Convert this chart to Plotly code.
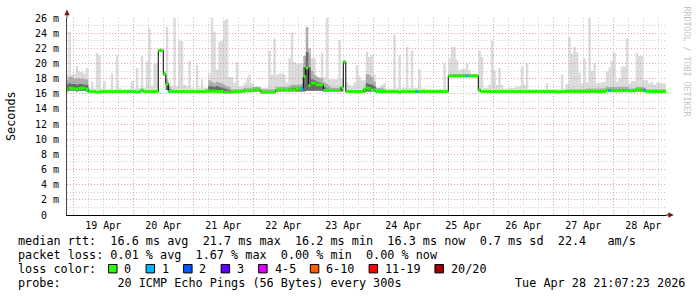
import datetime as dt
import plotly.graph_objects as go

# ---------------- data (hourly bins starting 2026-04-18 21:00) ----------------
START = dt.datetime(2026, 4, 18, 21, 0)
VIEW_START = dt.datetime(2026, 4, 18, 21, 29)
VIEW_END = dt.datetime(2026, 4, 28, 21, 5)

DAY_LABELS = ["19 Apr", "20 Apr", "21 Apr", "22 Apr", "23 Apr",
              "24 Apr", "25 Apr", "26 Apr", "27 Apr", "28 Apr"]
DAY_NUMBERS = [19, 20, 21, 22, 23, 24, 25, 26, 27, 28]

Y_TICKS = [0, 2, 4, 6, 8, 10, 12, 14, 16, 18, 20, 22, 24, 26]
Y_TICK_TEXT = ["0  ", "2 m", "4 m", "6 m", "8 m", "10 m", "12 m", "14 m",
               "16 m", "18 m", "20 m", "22 m", "24 m", "26 m"]

# max ping per hour (ms)
MAX_RTT = [
    18.5, 24.2, 18.5, 18.6, 19.7, 18.9, 18.9, 18.7, 19.4, 16.8, 17.6, 16.7, 21.4, 21.1, 16.7, 17.7, 16.6, 16.6, 18.7, 16.6, 21.1, 16.8, 16.6, 16.6,
    16.6, 16.6, 17.7, 16.7, 19.4, 16.8, 21.0, 16.8, 20.3, 24.6, 17.0, 20.0, 20.0, 22.0, 22.0, 19.0, 24.8, 17.5, 17.0, 26.1, 17.0, 23.0, 22.9, 17.2,
    17.0, 20.4, 16.8, 16.7, 19.8, 16.8, 17.9, 16.8, 16.8, 18.7, 26.1, 24.2, 19.2, 22.9, 23.0, 25.7, 25.9, 18.2, 18.2, 17.5, 20.2, 17.0, 17.0, 17.4,
    17.9, 18.5, 17.4, 17.0, 17.0, 16.9, 16.8, 16.8, 16.8, 21.7, 18.5, 23.3, 18.5, 18.7, 18.7, 18.5, 17.5, 20.7, 24.1, 20.2, 20.0, 20.0, 20.0, 21.0,
    24.8, 21.2, 20.7, 20.7, 18.2, 18.2, 21.4, 18.2, 26.1, 17.9, 17.9, 17.9, 17.9, 23.1, 18.0, 20.4, 17.5, 17.2, 17.0, 17.5, 19.8, 18.3, 17.8, 17.8,
    21.5, 20.9, 21.1, 18.5, 16.8, 16.8, 17.2, 17.4, 16.7, 16.7, 16.7, 23.8, 16.8, 21.1, 16.8, 16.8, 22.2, 16.8, 21.7, 16.8, 16.8, 19.2, 16.7, 16.7,
    16.6, 16.6, 16.6, 16.6, 16.6, 16.6, 16.6, 20.0, 16.6, 20.7, 22.2, 22.2, 20.5, 19.1, 19.3, 19.3, 20.0, 19.1, 18.6, 18.6, 18.6, 21.7, 20.9, 16.8,
    16.8, 17.2, 23.0, 19.1, 17.2, 19.4, 17.2, 16.7, 16.7, 16.8, 16.8, 16.8, 17.0, 17.0, 19.6, 17.2, 20.0, 16.6, 16.6, 16.6, 16.6, 16.6, 16.6, 16.6,
    17.4, 16.6, 16.6, 16.6, 16.6, 16.6, 18.5, 16.7, 17.3, 23.5, 21.3, 22.2, 21.5, 18.8, 17.4, 20.7, 17.5, 26.1, 19.0, 20.0, 17.4, 17.5, 17.5, 17.6,
    18.9, 19.5, 20.4, 21.4, 17.6, 18.0, 19.6, 19.6, 23.3, 17.4, 17.7, 17.7, 21.4, 21.0, 21.0, 17.8, 17.8, 17.4, 17.6, 17.2, 17.5, 17.5, 17.4, 17.4,
]

# min ping per hour (ms)
MIN_RTT = [
    16.3, 16.4, 16.4, 16.4, 16.3, 16.4, 16.4, 16.4, 16.3, 16.2, 16.2, 16.2, 16.1, 16.2, 16.2, 16.2, 16.2, 16.2, 16.2, 16.2, 16.2, 16.2, 16.2, 16.2,
    16.2, 16.2, 16.2, 16.2, 16.15, 16.15, 16.3, 16.2, 16.2, 16.2, 16.2, 16.2, 16.2, 21.5, 21.5, 18.4, 16.5, 16.2, 16.2, 16.2, 16.2, 16.2, 16.2, 16.2,
    16.2, 16.2, 16.2, 16.2, 16.2, 16.2, 16.2, 16.2, 16.2, 16.2, 16.2, 16.2, 16.2, 16.2, 16.2, 16.1, 16.1, 16.1, 16.1, 16.2, 16.2, 16.2, 16.2, 16.2,
    16.3, 16.3, 16.3, 16.3, 16.3, 16.3, 16.1, 16.1, 16.1, 16.1, 16.1, 16.1, 16.3, 16.3, 16.3, 16.3, 16.3, 16.3, 16.3, 16.3, 16.3, 16.3, 16.3, 16.3,
    16.4, 16.4, 16.4, 16.4, 16.4, 16.4, 16.4, 16.3, 16.3, 16.3, 16.3, 16.3, 16.3, 16.3, 16.3, 20.0, 16.2, 16.2, 16.2, 16.2, 16.2, 16.2, 16.2, 16.2,
    16.3, 16.3, 16.3, 16.3, 16.2, 16.2, 16.2, 16.2, 16.2, 16.2, 16.2, 16.2, 16.2, 16.1, 16.2, 16.2, 16.2, 16.2, 16.2, 16.2, 16.2, 16.2, 16.2, 16.2,
    16.2, 16.2, 16.2, 16.2, 16.2, 16.2, 16.2, 16.2, 16.2, 18.2, 18.2, 18.2, 18.2, 18.2, 18.2, 18.2, 18.2, 18.2, 18.2, 18.2, 18.2, 16.3, 16.2, 16.2,
    16.2, 16.2, 16.2, 16.2, 16.2, 16.2, 16.2, 16.2, 16.2, 16.2, 16.2, 16.2, 16.2, 16.2, 16.2, 16.2, 16.2, 16.2, 16.2, 16.2, 16.2, 16.2, 16.2, 16.2,
    16.2, 16.2, 16.2, 16.2, 16.15, 16.15, 16.2, 16.2, 16.2, 16.2, 16.2, 16.2, 16.2, 16.2, 16.2, 16.2, 16.2, 16.2, 16.2, 16.2, 16.2, 16.2, 16.2, 16.2,
    16.3, 16.3, 16.3, 16.3, 16.3, 16.3, 16.3, 16.3, 16.3, 16.3, 16.3, 16.3, 16.3, 16.3, 16.3, 16.3, 16.2, 16.2, 16.2, 16.2, 16.2, 16.2, 16.2, 16.2,
]

# upper edge of the medium smoke (ms)
SMOKE_HI = [
    17.8, 18.2, 18.2, 18.0, 18.0, 18.0, 18.0, 17.9, 17.9, 16.4, 16.4, 16.4, 16.3, 16.35, 16.4, 16.4, 16.4, 16.4, 16.4, 16.4, 16.4, 16.4, 16.4, 16.4,
    16.4, 16.4, 16.4, 16.4, 16.35, 16.35, 16.7, 16.4, 16.4, 16.4, 16.4, 16.4, 16.4, 21.8, 21.8, 18.8, 17.9, 17.0, 16.6, 16.4, 16.4, 16.4, 16.4, 16.4,
    16.4, 16.4, 16.4, 16.4, 16.4, 16.4, 16.4, 16.4, 16.6, 17.8, 17.6, 17.4, 17.6, 17.5, 17.4, 17.2, 17.0, 16.9, 16.6, 16.6, 16.6, 16.6, 16.6, 16.8,
    16.8, 16.8, 16.8, 16.9, 16.9, 16.9, 16.6, 16.6, 16.6, 16.6, 16.6, 16.6, 16.9, 16.9, 16.9, 16.9, 16.9, 17.0, 17.2, 17.2, 17.2, 17.2, 17.3, 21.0,
    24.8, 22.0, 19.0, 18.5, 18.3, 18.0, 18.0, 17.5, 17.3, 17.0, 16.8, 16.8, 16.8, 16.8, 17.0, 20.4, 16.5, 16.5, 16.5, 16.5, 16.5, 16.5, 16.5, 16.8,
    18.6, 18.5, 18.2, 17.6, 16.8, 16.8, 16.8, 16.6, 16.4, 16.4, 16.4, 16.4, 16.4, 16.4, 16.4, 16.4, 16.4, 16.4, 16.4, 16.4, 16.4, 16.4, 16.4, 16.4,
    16.4, 16.4, 16.4, 16.4, 16.4, 16.4, 16.4, 16.4, 16.4, 18.6, 18.6, 18.6, 18.6, 18.6, 18.6, 18.6, 18.6, 18.6, 18.6, 18.6, 18.6, 16.6, 16.4, 16.4,
    16.4, 16.4, 16.4, 16.4, 16.4, 16.4, 16.4, 16.4, 16.4, 16.4, 16.4, 16.4, 16.4, 16.4, 16.4, 16.4, 16.4, 16.4, 16.4, 16.4, 16.4, 16.4, 16.4, 16.4,
    16.4, 16.4, 16.4, 16.4, 16.4, 16.4, 16.4, 16.4, 16.6, 16.6, 16.6, 16.6, 16.6, 16.6, 16.6, 16.6, 16.7, 16.7, 16.7, 16.7, 16.7, 16.7, 16.7, 16.7,
    16.9, 16.9, 16.9, 16.9, 16.9, 16.9, 16.9, 16.9, 16.9, 16.7, 16.7, 16.7, 16.9, 16.9, 16.9, 16.8, 16.6, 16.6, 16.6, 16.6, 16.6, 16.6, 16.6, 16.6,
]

# upper edge of the dark smoke core (ms)
SMOKE_CORE = [
    17.2, 17.4, 17.3, 17.3, 17.2, 17.3, 17.3, 17.2, 17.2, 16.35, 16.35, 16.35, 16.25, 16.3, 16.35, 16.35, 16.35, 16.35, 16.35, 16.35, 16.35, 16.35, 16.35, 16.35,
    16.35, 16.35, 16.35, 16.35, 16.3, 16.3, 16.55, 16.35, 16.35, 16.35, 16.35, 16.35, 16.35, 21.75, 21.75, 18.7, 17.5, 16.6, 16.4, 16.35, 16.35, 16.35, 16.35, 16.35,
    16.35, 16.35, 16.35, 16.35, 16.35, 16.35, 16.35, 16.35, 16.45, 17.0, 17.0, 16.9, 17.0, 16.9, 16.8, 16.7, 16.6, 16.5, 16.3, 16.4, 16.4, 16.4, 16.4, 16.5,
    16.5, 16.5, 16.5, 16.6, 16.6, 16.6, 16.3, 16.3, 16.3, 16.3, 16.3, 16.3, 16.6, 16.6, 16.6, 16.6, 16.6, 16.7, 16.8, 16.8, 16.8, 16.8, 16.9, 19.5,
    21.5, 19.5, 17.9, 17.8, 17.6, 17.5, 17.4, 16.9, 16.7, 16.6, 16.55, 16.55, 16.55, 16.55, 16.9, 20.3, 16.4, 16.4, 16.4, 16.4, 16.4, 16.4, 16.4, 16.65,
    17.4, 17.3, 17.2, 17.0, 16.5, 16.5, 16.5, 16.4, 16.35, 16.35, 16.35, 16.35, 16.35, 16.35, 16.35, 16.35, 16.35, 16.35, 16.35, 16.35, 16.35, 16.35, 16.35, 16.35,
    16.35, 16.35, 16.35, 16.35, 16.35, 16.35, 16.35, 16.35, 16.35, 18.45, 18.45, 18.45, 18.45, 18.45, 18.45, 18.45, 18.45, 18.45, 18.45, 18.45, 18.45, 16.55, 16.35, 16.35,
    16.35, 16.35, 16.35, 16.35, 16.35, 16.35, 16.35, 16.35, 16.35, 16.35, 16.35, 16.35, 16.35, 16.35, 16.35, 16.35, 16.35, 16.35, 16.35, 16.35, 16.35, 16.35, 16.35, 16.35,
    16.35, 16.35, 16.35, 16.35, 16.35, 16.35, 16.35, 16.35, 16.45, 16.45, 16.45, 16.45, 16.45, 16.45, 16.45, 16.45, 16.5, 16.5, 16.5, 16.5, 16.5, 16.5, 16.5, 16.5,
    16.6, 16.6, 16.6, 16.6, 16.6, 16.6, 16.6, 16.6, 16.6, 16.5, 16.5, 16.5, 16.65, 16.65, 16.65, 16.65, 16.4, 16.4, 16.4, 16.4, 16.4, 16.4, 16.4, 16.4,
]

# median rtt per hour (ms)
MEDIAN = [
    16.5, 16.75, 16.7, 16.65, 16.6, 16.7, 16.75, 16.75, 16.6, 16.3, 16.3, 16.3, 16.2, 16.25, 16.3, 16.3, 16.3, 16.3, 16.3, 16.3, 16.3, 16.3, 16.3, 16.3,
    16.3, 16.3, 16.3, 16.3, 16.25, 16.25, 16.45, 16.3, 16.3, 16.3, 16.3, 16.3, 16.3, 21.7, 21.7, 18.6, 17.3, 16.3, 16.3, 16.3, 16.3, 16.3, 16.3, 16.3,
    16.3, 16.3, 16.3, 16.3, 16.3, 16.3, 16.3, 16.3, 16.35, 16.35, 16.35, 16.35, 16.3, 16.3, 16.3, 16.2, 16.2, 16.2, 16.2, 16.3, 16.3, 16.3, 16.3, 16.4,
    16.4, 16.4, 16.4, 16.5, 16.5, 16.5, 16.2, 16.2, 16.2, 16.2, 16.2, 16.2, 16.5, 16.5, 16.5, 16.5, 16.5, 16.5, 16.5, 16.5, 16.65, 16.65, 16.65, 18.3,
    19.4, 17.1, 17.4, 17.4, 17.2, 17.2, 17.2, 16.45, 16.45, 16.45, 16.45, 16.45, 16.45, 16.45, 16.85, 20.2, 16.3, 16.3, 16.3, 16.3, 16.3, 16.3, 16.3, 16.55,
    16.75, 16.7, 16.5, 16.5, 16.3, 16.3, 16.3, 16.3, 16.3, 16.3, 16.3, 16.3, 16.3, 16.2, 16.3, 16.3, 16.3, 16.3, 16.3, 16.3, 16.3, 16.3, 16.3, 16.3,
    16.3, 16.3, 16.3, 16.3, 16.3, 16.3, 16.3, 16.3, 16.3, 18.35, 18.35, 18.35, 18.35, 18.35, 18.35, 18.35, 18.35, 18.35, 18.35, 18.35, 18.35, 16.5, 16.3, 16.3,
    16.3, 16.3, 16.3, 16.3, 16.3, 16.3, 16.3, 16.3, 16.3, 16.3, 16.3, 16.3, 16.3, 16.3, 16.3, 16.3, 16.3, 16.3, 16.3, 16.3, 16.3, 16.3, 16.3, 16.3,
    16.3, 16.3, 16.3, 16.3, 16.25, 16.25, 16.3, 16.3, 16.3, 16.3, 16.3, 16.3, 16.3, 16.3, 16.3, 16.3, 16.3, 16.3, 16.3, 16.3, 16.3, 16.3, 16.3, 16.3,
    16.45, 16.45, 16.4, 16.4, 16.4, 16.4, 16.4, 16.4, 16.4, 16.4, 16.4, 16.4, 16.55, 16.55, 16.4, 16.4, 16.3, 16.3, 16.3, 16.3, 16.3, 16.3, 16.3, 16.3,
]

# lost pings (of 20) per hour
LOSS = [
    0, 0, 0, 0, 0, 0, 0, 0, 0, 0, 0, 0, 0, 0, 0, 0, 0, 0, 0, 0, 0, 0, 0, 0,
    0, 0, 0, 0, 0, 0, 0, 0, 0, 0, 0, 0, 0, 0, 0, 0, 0, 0, 0, 0, 0, 0, 0, 0,
    0, 0, 0, 0, 0, 0, 0, 0, 0, 0, 0, 0, 0, 0, 0, 0, 0, 0, 0, 0, 0, 0, 0, 0,
    0, 0, 0, 0, 0, 0, 0, 0, 0, 0, 0, 0, 0, 0, 0, 0, 0, 0, 0, 0, 0, 0, 1, 0,
    0, 0, 0, 0, 0, 0, 0, 0, 0, 0, 0, 0, 0, 0, 0, 0, 0, 0, 0, 0, 0, 0, 0, 0,
    0, 0, 0, 0, 0, 0, 0, 0, 0, 0, 0, 0, 0, 0, 0, 0, 0, 0, 0, 0, 1, 0, 0, 0,
    0, 0, 0, 0, 0, 0, 0, 0, 0, 0, 0, 0, 0, 0, 0, 0, 1, 0, 0, 0, 0, 0, 0, 0,
    0, 0, 0, 0, 0, 0, 0, 0, 0, 0, 0, 0, 0, 0, 0, 0, 0, 0, 0, 0, 0, 0, 0, 0,
    0, 0, 0, 0, 0, 0, 0, 0, 0, 0, 0, 0, 0, 0, 0, 0, 0, 0, 0, 0, 0, 0, 0, 0,
    0, 1, 0, 0, 0, 0, 0, 0, 0, 0, 0, 0, 0, 0, 0, 1, 0, 0, 0, 0, 0, 0, 0, 0,
]

LOSS_LABELS = ["0", "1", "2", "3", "4-5", "6-10", "11-19", "20/20"]
LOSS_LOWER = [0, 1, 2, 3, 4, 6, 11, 20]
LOSS_COLORS = ["#26ff00", "#00b8ff", "#0059ff", "#5e00ff", "#dd00ff",
               "#ff5e00", "#ff0000", "#a10000"]

RTT_STATS = ["16.6 ms avg", "21.7 ms max", "16.2 ms min", "16.3 ms now",
             "0.7 ms sd", "22.4   am/s"]
LOSS_STATS = ["0.01 % avg", "1.67 % max", "0.00 % min", "0.00 % now"]
PROBE_TEXT = "20 ICMP Echo Pings (56 Bytes) every 300s"
STAMP_TEXT = "Tue Apr 28 21:07:23 2026"

# ---------------- figure ----------------
N = len(MEDIAN)
for name, arr in [("MAX_RTT", MAX_RTT), ("MIN_RTT", MIN_RTT), ("SMOKE_HI", SMOKE_HI),
                  ("SMOKE_CORE", SMOKE_CORE), ("LOSS", LOSS)]:
    if len(arr) != N:
        raise SystemExit(f"{name} has {len(arr)} values, expected {N}")

times = [START + dt.timedelta(hours=i) for i in range(N + 1)]


def step(vals):
    return list(vals) + [vals[-1]]


MONO = "DejaVu Sans Mono"
fig = go.Figure()


def band(lo, hi, color):
    fig.add_trace(go.Scatter(x=times, y=step(lo), mode="lines",
                             line=dict(width=0, shape="hv"), hoverinfo="skip",
                             showlegend=False))
    fig.add_trace(go.Scatter(x=times, y=step(hi), mode="lines",
                             line=dict(width=0, shape="hv"), fill="tonexty",
                             fillcolor=color, hoverinfo="skip", showlegend=False))


band(MIN_RTT, MAX_RTT, "rgba(150,150,150,0.33)")
band(MIN_RTT, SMOKE_HI, "rgba(110,110,110,0.42)")
band(MIN_RTT, SMOKE_CORE, "rgba(40,40,40,0.50)")

# thin black median step line
fig.add_trace(go.Scatter(x=times, y=step(MEDIAN), mode="lines",
                         line=dict(width=1, color="black", shape="hv"),
                         hoverinfo="skip", showlegend=False))


def loss_bucket(n):
    idx = 0
    for k, lo in enumerate(LOSS_LOWER):
        if n >= lo:
            idx = k
    return idx


for k, color in enumerate(LOSS_COLORS):
    xs, ys = [], []
    for i in range(N):
        if loss_bucket(LOSS[i]) == k:
            xs += [times[i], times[i + 1], None]
            ys += [MEDIAN[i], MEDIAN[i], None]
    if xs:
        fig.add_trace(go.Scatter(x=xs, y=ys, mode="lines",
                                 line=dict(width=3, color=color),
                                 hoverinfo="skip", showlegend=False))

midnights = [dt.datetime(2026, 4, d) for d in DAY_NUMBERS]
noons = [m + dt.timedelta(hours=12) for m in midnights]
quarter = []
for m in [dt.datetime(2026, 4, 18)] + midnights:
    for hh in (6, 12, 18):
        quarter.append(m + dt.timedelta(hours=hh))

# invisible trace so the label axis renders
fig.add_trace(go.Scatter(x=[noons[0]], y=[0], xaxis="x2", mode="markers",
                         marker=dict(opacity=0), hoverinfo="skip", showlegend=False))

RED_GRID = "#e6a3a3"
GRAY_GRID = "#cfcfcf"
DOT = "1px,2px"

fig.update_layout(
    width=697, height=297,
    margin=dict(l=67, r=31, t=16, b=82, pad=0),
    paper_bgcolor="white", plot_bgcolor="white", showlegend=False,
    font=dict(family=MONO, size=10, color="black"),
    xaxis=dict(type="date", range=[VIEW_START, VIEW_END], tickmode="array",
               tickvals=midnights, showticklabels=False, ticks="",
               showgrid=True, gridcolor=RED_GRID, griddash=DOT, gridwidth=1,
               minor=dict(tickmode="array", tickvals=quarter, showgrid=True,
                          gridcolor=GRAY_GRID, griddash=DOT, gridwidth=1, ticks=""),
               showline=True, linecolor="black", linewidth=1, zeroline=False,
               fixedrange=True),
    xaxis2=dict(type="date", range=[VIEW_START, VIEW_END], overlaying="x",
                anchor="y", side="bottom", tickmode="array", tickvals=noons,
                ticktext=DAY_LABELS, ticks="", showgrid=False, showline=False,
                zeroline=False, tickfont=dict(family=MONO, size=10, color="black"),
                ticklabelstandoff=3),
    yaxis=dict(range=[0, 26], tickmode="array", tickvals=Y_TICKS,
               ticktext=[t.replace(" ", "\u00a0") for t in Y_TICK_TEXT],
               ticks="", showgrid=True, gridcolor=RED_GRID, griddash=DOT, gridwidth=1,
               minor=dict(tickmode="array", tickvals=[1, 3, 5, 7, 9, 11, 13, 15, 17, 19, 21, 23, 25],
                          showgrid=True, gridcolor=GRAY_GRID, griddash=DOT, gridwidth=1, ticks=""),
               showline=True, linecolor="#444444", linewidth=1, zeroline=False,
               tickfont=dict(family=MONO, size=10, color="black"),
               ticklabelstandoff=5),
)

# ---------------- pixel helpers for decorations ----------------
PL, PT, PW, PH = 67, 16, 599, 199


def px(x):
    return (x - PL) / PW


def py(y):
    return (PT + PH - y) / PH


def nb(s):
    return s.replace(" ", "\u00a0")


ARROW = "#7f1414"
shapes = [
    dict(type="line", xref="paper", yref="paper", x0=px(67), x1=px(67), y0=py(16), y1=py(12),
         line=dict(color="#444444", width=1)),
    dict(type="path", xref="paper", yref="paper",
         path=f"M {px(67)},{py(7.5)} L {px(64.3)},{py(13.3)} L {px(69.7)},{py(13.3)} Z",
         fillcolor=ARROW, line=dict(width=0)),
    dict(type="line", xref="paper", yref="paper", x0=px(666), x1=px(669), y0=py(215), y1=py(215),
         line=dict(color="black", width=1)),
    dict(type="path", xref="paper", yref="paper",
         path=f"M {px(673.8)},{py(215)} L {px(668.3)},{py(212.3)} L {px(668.3)},{py(217.7)} Z",
         fillcolor=ARROW, line=dict(width=0)),
]

LEG = 11.8
CW = 7.08
X0 = 16.5
ann = []


def text_at(x, y, s, size=LEG, anchor="left", color="black", angle=0):
    ann.append(dict(xref="paper", yref="paper", x=px(x), y=py(y), text=nb(s),
                    showarrow=False, xanchor=anchor, yanchor="middle",
                    font=dict(family=MONO, size=size, color=color),
                    textangle=angle, borderpad=0))


text_at(X0, 241.5, "median rtt:  " + "  ".join(RTT_STATS))
text_at(X0, 255.5, "packet loss: " + "  ".join(LOSS_STATS))
text_at(X0, 269.5, "loss color:")
text_at(X0, 283.5, "probe:        " + PROBE_TEXT)
text_at(685.5, 283.5, STAMP_TEXT, anchor="right")

col = 13.0
for label, color in zip(LOSS_LABELS, LOSS_COLORS):
    bx = X0 + col * CW
    shapes.append(dict(type="rect", xref="paper", yref="paper",
                       x0=px(bx), x1=px(bx + 8.5), y0=py(273.5), y1=py(265),
                       fillcolor=color, line=dict(color="black", width=1)))
    tcol = col + 2.1
    text_at(X0 + tcol * CW, 269.5, label)
    col = tcol + len(label) + 2.2

text_at(11, 115, "Seconds", anchor="center", angle=-90)
text_at(687, 60, "RRDTOOL / TOBI OETIKER", size=8.3, anchor="center", color="#c4c4c4", angle=90)

fig.update_layout(shapes=shapes, annotations=ann)
fig.write_html("out.html")
